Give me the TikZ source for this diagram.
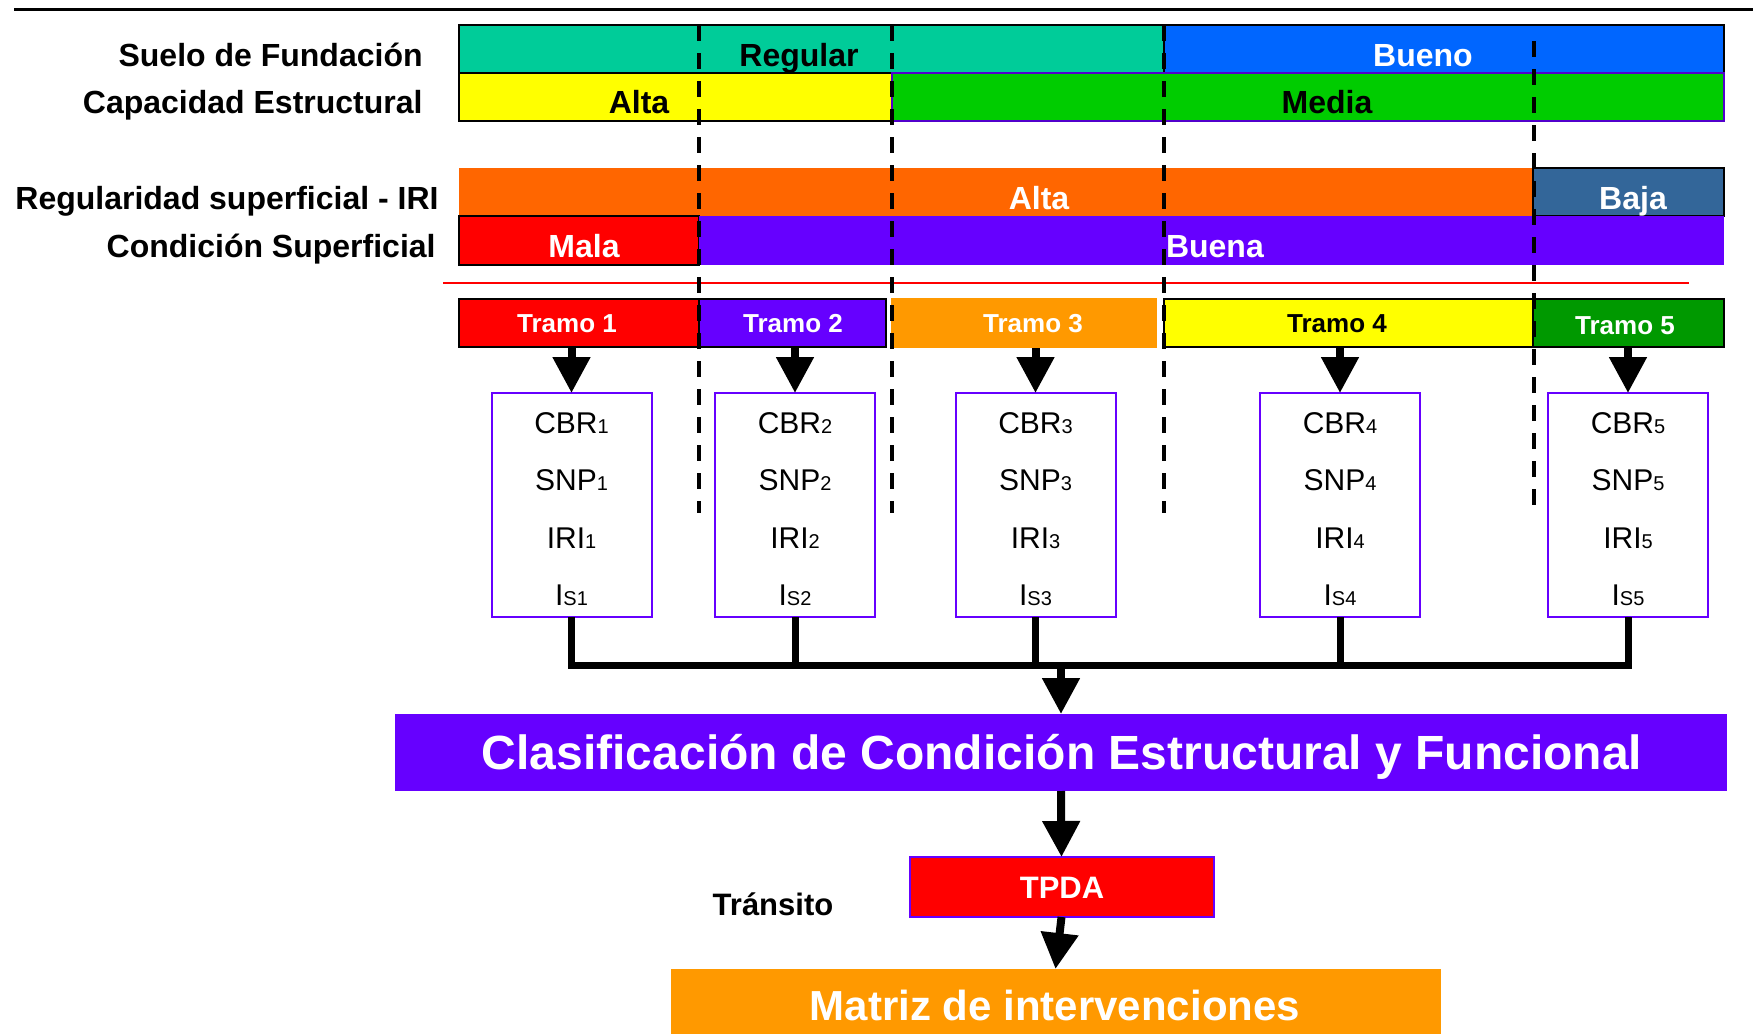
\documentclass[tikz,border=0pt]{standalone}
\usepackage{fontspec}
\setmainfont{Liberation Sans}
\usetikzlibrary{arrows.meta}
\definecolor{cTeal}{HTML}{00CC99}
\definecolor{cBlue}{HTML}{0066FF}
\definecolor{cYel}{HTML}{FFFF00}
\definecolor{cGreen}{HTML}{00CC00}
\definecolor{cOrange}{HTML}{FF6600}
\definecolor{cSteel}{HTML}{336699}
\definecolor{cRed}{HTML}{FF0000}
\definecolor{cPurple}{HTML}{6600FF}
\definecolor{cAmber}{HTML}{FF9900}
\definecolor{cDGreen}{HTML}{009900}
\newcommand\fLbl{\fontsize{16}{19}\selectfont\bfseries}
\newcommand\fTr{\fontsize{13}{15}\selectfont\bfseries}
\newcommand\fBox{\fontsize{15}{18}\selectfont}
\newcommand\fSub{\fontsize{10}{12}\selectfont}
\newcommand\fBig{\fontsize{24}{28}\selectfont\bfseries}
\newcommand\fTp{\fontsize{15.5}{18}\selectfont\bfseries}
\newcommand\fMz{\fontsize{21}{25}\selectfont\bfseries}
\begin{document}
\begin{tikzpicture}[x=0.5pt,y=-0.5pt,
  bar/.style={anchor=north west, inner sep=0pt, outer sep=0pt, minimum height=24pt, line width=1pt},
  txt/.style={anchor=base, inner sep=0pt, outer sep=0pt},
  lbl/.style={anchor=base east, inner sep=0pt, font=\fLbl},
  bx/.style={draw=cPurple, line width=1pt, minimum width=80pt, minimum height=112pt, inner sep=0pt, outer sep=0pt, anchor=north},
  dashline/.style={line width=2pt, dash pattern=on 8pt off 6pt},
  bigarr/.style={line width=4pt, -{Triangle[length=18pt,width=18pt]}},
  bus/.style={line width=3.5pt, line join=miter}]
\useasboundingbox (0,0) rectangle (1753,1034);
% top rule
\coordinate (topL) at (14,9.5);
\coordinate (topR) at (1753,9.5);
\draw[line width=1.2pt] (topL) -- (topR);
% row labels
\node[lbl] (lSuelo) at (423,66) {Suelo de Fundación};
\node[lbl] (lCap) at (423,113) {Capacidad Estructural};
\node[lbl] (lIRI) at (439,209) {Regularidad superficial - IRI};
\node[lbl] (lCond) at (436,257) {Condición Superficial};
% row 1
\node[bar, fill=cTeal, draw=black, minimum width=352.5pt] (regular) at (459,25) {};
\node[bar, fill=cBlue, draw=black, minimum width=280pt] (bueno) at (1164,25) {};
% row 2
\node[bar, fill=cYel, draw=black, minimum width=216.25pt] (altaCap) at (459,73) {};
\node[bar, fill=cGreen, draw=cPurple!80!black, minimum width=416.25pt] (media) at (891.5,73) {};
% row 3
\node[bar, fill=cOrange, minimum width=537pt] (altaIRI) at (459,168) {};
\node[bar, fill=cSteel, draw=black, minimum width=95.5pt] (baja) at (1533,168) {};
% row 4
\node[bar, fill=cRed, draw=black, minimum width=120pt, minimum height=24.5pt] (mala) at (459,216) {};
\node[bar, fill=cPurple, minimum width=512.5pt, minimum height=24.5pt] (buena) at (699,216) {};
% row texts
\node[txt, font=\fLbl] (tRegular) at (799,66) {Regular};
\node[txt, font=\fLbl, text=white] (tBueno) at (1423,66) {Bueno};
\node[txt, font=\fLbl] (tAltaCap) at (639,113) {Alta};
\node[txt, font=\fLbl] (tMedia) at (1327,113) {Media};
\node[txt, font=\fLbl, text=white] (tAltaIRI) at (1039,209) {Alta};
\node[txt, font=\fLbl, text=white] (tBaja) at (1633,209) {Baja};
\node[txt, font=\fLbl, text=white] (tMala) at (584,257) {Mala};
\node[txt, font=\fLbl, text=white, anchor=base west] (tBuena) at (1166,257) {Buena};
% red rule
\coordinate (redL) at (443,283);
\coordinate (redR) at (1689,283);
\draw[cRed, line width=1pt] (redL) -- (redR);
% tramos
\node[bar, fill=cRed, draw=black, minimum width=120pt] (t1) at (459,299) {};
\node[bar, fill=cPurple, draw=black, minimum width=93.5pt] (t2) at (699,299) {};
\node[bar, fill=cAmber, minimum width=133pt, minimum height=25pt] (t3) at (891,298) {};
\node[bar, fill=cYel, draw=black, minimum width=184.25pt] (t4) at (1164,299) {};
\node[bar, fill=cDGreen, draw=black, minimum width=95.75pt] (t5) at (1532.5,299) {};
\node[txt, font=\fTr, text=white] (tt1) at (567,332) {Tramo 1};
\node[txt, font=\fTr, text=white] (tt2) at (793,332) {Tramo 2};
\node[txt, font=\fTr, text=white] (tt3) at (1033,332) {Tramo 3};
\node[txt, font=\fTr] (tt4) at (1337,332) {Tramo 4};
\node[txt, font=\fTr, text=white] (tt5) at (1625,334) {Tramo 5};
% dashed separators
\coordinate (d1t) at (699,25);   \coordinate (d1b) at (699,513);
\coordinate (d2t) at (891.5,25); \coordinate (d2b) at (891.5,513);
\coordinate (d3t) at (1164,25);  \coordinate (d3b) at (1164,513);
\coordinate (d4t) at (1534,41);  \coordinate (d4b) at (1534,505);
\draw[dashline] (d1t) -- (d1b);
\draw[dashline] (d2t) -- (d2b);
\draw[dashline] (d3t) -- (d3b);
\draw[dashline] (d4t) -- (d4b);
% parameter boxes
\foreach \i/\cx in {1/571.5,2/795,3/1035.5,4/1340,5/1628} {
  \node[bx] (b\i) at (\cx,393) {};
  \node[txt, font=\fBox] (cbr\i) at (\cx,433) {CBR{\fSub\i}};
  \node[txt, font=\fBox] (snp\i) at (\cx,490) {SNP{\fSub\i}};
  \node[txt, font=\fBox] (iri\i) at (\cx,548) {IRI{\fSub\i}};
  \node[txt, font=\fBox] (is\i) at (\cx,605) {I{\fSub S\i}};
}
% arrows tramo -> box
\foreach \i in {1,...,5} {
  \draw[bigarr] (t\i.south -| b\i.north) -- (b\i.north);
}
% bus
\coordinate (busy) at (0,665);
\draw[bus] (b1.south) -- (b1.south |- busy) -- (b5.south |- busy) -- (b5.south);
\draw[bus] (b2.south) -- (b2.south |- busy);
\draw[bus] (b3.south) -- (b3.south |- busy);
\draw[bus] (b4.south) -- (b4.south |- busy);
% classification
\node[bar, fill=cPurple, minimum width=666pt, minimum height=38.5pt] (clas) at (395,714) {};
\node[txt, font=\fBig, text=white] (tClas) at (1062,769) {Clasificación de Condición Estructural y Funcional};
\draw[bigarr] (clas.north |- busy) -- (clas.north);
% TPDA
\node[bar, fill=cRed, draw=cPurple, minimum width=152pt, minimum height=30pt] (tpda) at (909.5,857) {};
\node[txt, font=\fTp, text=white] (tTpda) at (1062,898) {TPDA};
\node[txt, font=\fTp] (transito) at (773,915) {Tránsito};
\draw[bigarr] (clas.south) -- (tpda.north);
% Matriz
\node[bar, fill=cAmber, minimum width=385pt, minimum height=32.5pt] (matriz) at (670.5,969) {};
\node[txt, font=\fMz, text=white] (tMatriz) at (1055,1020) {Matriz de intervenciones};
\draw[bigarr] (tpda.south) -- (matriz.north);
\end{tikzpicture}
\end{document}
